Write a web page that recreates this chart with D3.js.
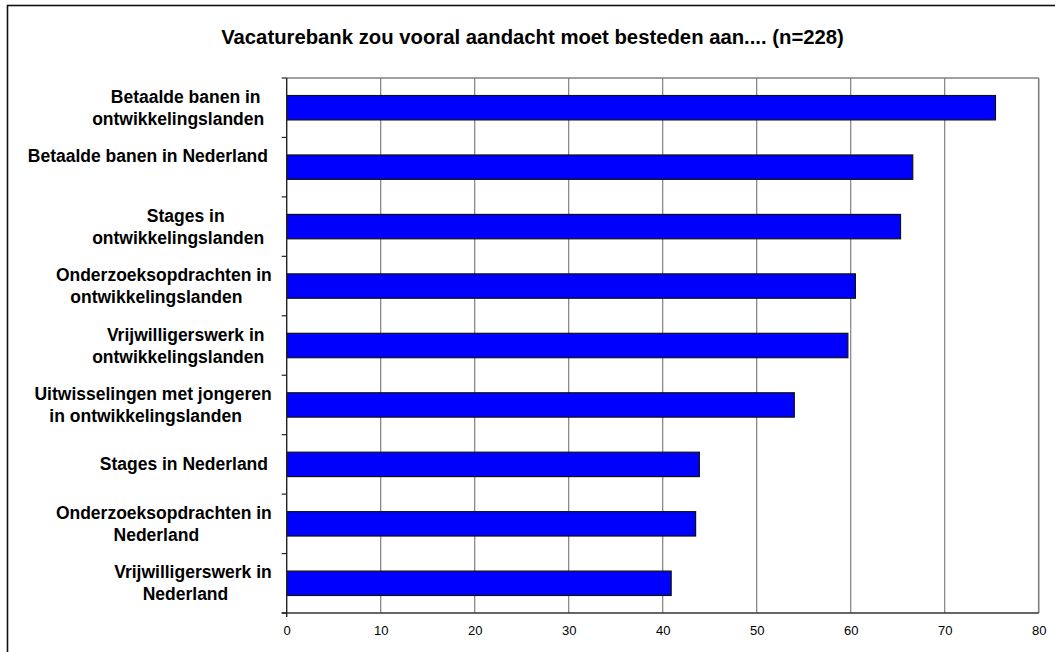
<!DOCTYPE html>
<meta charset="UTF-8">
<style>
body { margin: 0; background: #fff; }
text { font-family: "Liberation Sans", Arial, sans-serif; }
.title { font-size: 20.3px; font-weight: bold; }
.cat text { font-size: 17.5px; font-weight: bold; }
.xaxis text { font-size: 13px; }
</style>
<body>
<script src="https://cdnjs.cloudflare.com/ajax/libs/d3/7.8.5/d3.min.js"></script>
<script>
// data
const title = "Vacaturebank zou vooral aandacht moet besteden aan.... (n=228)";
const categories = [
  ["Betaalde banen in", "ontwikkelingslanden"],
  ["Betaalde banen in Nederland", ""],
  ["Stages in", "ontwikkelingslanden"],
  ["Onderzoeksopdrachten in", "ontwikkelingslanden"],
  ["Vrijwilligerswerk in", "ontwikkelingslanden"],
  ["Uitwisselingen met jongeren", "in ontwikkelingslanden"],
  ["Stages in Nederland"],
  ["Onderzoeksopdrachten in", "Nederland"],
  ["Vrijwilligerswerk in", "Nederland"]
];
const values = [75.4, 66.6, 65.3, 60.5, 59.7, 54.0, 43.9, 43.5, 40.9];
const xTicks = [0, 10, 20, 30, 40, 50, 60, 70, 80];

const width = 1055, height = 652;
const plot = {left: 286.7, right: 1038.7, top: 78, bottom: 613};

const svg = d3.select("body").append("svg")
    .attr("width", width)
    .attr("height", height);

// outer chart frame (runs off the right and bottom edge)
svg.append("rect")
    .attr("x", 7.5).attr("y", 5.5)
    .attr("width", 1070).attr("height", 700)
    .attr("fill", "none")
    .attr("stroke", "#111")
    .attr("stroke-width", 1.6);

svg.append("text")
    .attr("class", "title")
    .attr("x", 532.5).attr("y", 44)
    .attr("text-anchor", "middle")
    .text(title);

const x = d3.scaleLinear().domain([0, 80]).range([plot.left, plot.right]);
const idx = categories.map((d, i) => i);
const y = d3.scaleBand().domain(idx).range([plot.top, plot.bottom])
    .paddingInner(0.59).paddingOuter(0.295);

// gridlines
svg.append("g").selectAll("line")
    .data(xTicks.slice(1))
    .join("line")
    .attr("x1", d => x(d)).attr("x2", d => x(d))
    .attr("y1", plot.top).attr("y2", plot.bottom)
    .attr("stroke", "#808080")
    .attr("stroke-width", d => d === 80 ? 1.6 : 1.2);

// top border of plot area
svg.append("line")
    .attr("x1", plot.left).attr("x2", plot.right)
    .attr("y1", plot.top).attr("y2", plot.top)
    .attr("stroke", "#808080").attr("stroke-width", 1.6);

// bars
svg.append("g").selectAll("rect")
    .data(values)
    .join("rect")
    .attr("x", x(0))
    .attr("y", (d, i) => y(i))
    .attr("width", d => x(d) - x(0))
    .attr("height", y.bandwidth())
    .attr("fill", "#0000ff")
    .attr("stroke", "#111")
    .attr("stroke-width", 1.2);

// x axis
const xAxis = svg.append("g")
    .attr("class", "xaxis")
    .attr("transform", "translate(0," + plot.bottom + ")")
    .call(d3.axisBottom(x).tickValues(xTicks).tickSize(0).tickPadding(13));
xAxis.select(".domain").remove();
xAxis.selectAll("text").attr("fill", "#000");

svg.append("line")
    .attr("x1", plot.left - 5).attr("x2", plot.right)
    .attr("y1", plot.bottom).attr("y2", plot.bottom)
    .attr("stroke", "#333").attr("stroke-width", 1.6);

// y axis line and category boundary ticks
svg.append("line")
    .attr("x1", plot.left).attr("x2", plot.left)
    .attr("y1", plot.top).attr("y2", plot.bottom + 4)
    .attr("stroke", "#222").attr("stroke-width", 1.4);

svg.append("g").selectAll("line")
    .data(d3.range(categories.length + 1))
    .join("line")
    .attr("x1", plot.left - 5).attr("x2", plot.left)
    .attr("y1", d => plot.top + d * y.step())
    .attr("y2", d => plot.top + d * y.step())
    .attr("stroke", "#222").attr("stroke-width", 1.2);

// category labels: block right-aligned, lines centred within it
const labelRight = 268, lineH = 22;
const cat = svg.append("g").attr("class", "cat");
categories.forEach((lines, i) => {
  const cy = y(i) + y.bandwidth() / 2;
  const g = cat.append("g");
  const texts = lines.map((s, j) => g.append("text")
      .attr("text-anchor", "middle")
      .attr("y", cy + 6 + (j - (lines.length - 1) / 2) * lineH)
      .text(s));
  const maxW = d3.max(texts, t => t.node().getComputedTextLength());
  const mid = labelRight - maxW / 2;
  const shift = lines.length > 1 && lines[1] !== "" ? 3.75 : 0;
  texts.forEach((t, j) => t.attr("x", mid + (j === 0 ? shift : -shift)));
});
</script>
</body>
